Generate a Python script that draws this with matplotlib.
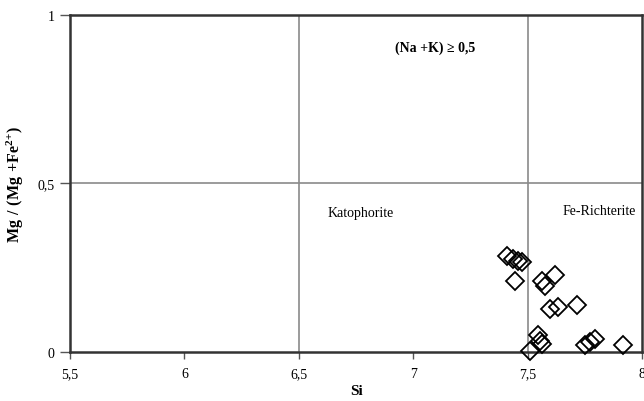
import matplotlib
matplotlib.use("Agg")
import matplotlib.pyplot as plt

# analyses: Si (apfu) vs Mg/(Mg+Fe2+)
si = [7.408, 7.437, 7.459, 7.476, 7.446, 7.561, 7.576, 7.620,
      7.598, 7.634, 7.714, 7.546, 7.553, 7.561, 7.510,
      7.751, 7.773, 7.795, 7.918]
mg_ratio = [0.286, 0.276, 0.271, 0.266, 0.212, 0.212, 0.197, 0.228,
            0.128, 0.133, 0.138, 0.049, 0.033, 0.024, 0.004,
            0.020, 0.029, 0.039, 0.020]

xticks = [5.5, 6, 6.5, 7, 7.5, 8]
xlabels = ['5,5', '6', '6,5', '7', '7,5', '8']
yticks = [0, 0.5, 1]
ylabels = ['0', '0,5', '1']

plt.rcParams['font.family'] = ['Liberation Serif', 'DejaVu Serif']
plt.rcParams['mathtext.fontset'] = 'custom'
plt.rcParams['mathtext.rm'] = 'Liberation Serif'
plt.rcParams['mathtext.bf'] = 'Liberation Serif:bold'

fig = plt.figure(figsize=(6.44, 4.02), dpi=100)
ax = fig.add_axes([0.1087, 0.1219, 0.8882, 0.8383])

#### linhas de divisao dos campos
ax.axvline(x=6.5, color='#8a8a8a', linewidth=1.2, zorder=1)
ax.axvline(x=7.5, color='#8a8a8a', linewidth=1.2, zorder=1)
ax.axhline(y=0.5, color='#8a8a8a', linewidth=1.2, zorder=1)

ax.plot(si, mg_ratio, 'D', markersize=9, markerfacecolor='none',
        markeredgecolor='k', markeredgewidth=1.3, clip_on=False, zorder=3)

ax.axis([5.5, 8, 0, 1])
ax.set_xticks(xticks)
ax.set_xticklabels(xlabels)
ax.set_yticks(yticks)
ax.set_yticklabels(ylabels)
ax.tick_params(axis='x', direction='out', length=5, width=1, color='#555555',
               labelsize=10, pad=6)
ax.tick_params(axis='y', direction='out', length=7, width=1, color='#555555',
               labelsize=10, pad=4)

for side in ['left', 'bottom', 'top', 'right']:
    ax.spines[side].set_color('#333333')
    ax.spines[side].set_linewidth(1.8)

#### Legendas
ax.text(7.095, 0.905, '(Na +K) \u2265 0,5', fontsize=10, fontweight='bold',
        ha='center', va='center')
ax.text(6.77, 0.415, 'Katophorite', fontsize=10, ha='center', va='center')
ax.text(7.815, 0.42, 'Fe-Richterite', fontsize=10, ha='center', va='center')

ax.set_xlabel('Si', fontsize=11, fontweight='bold', labelpad=3)
ax.set_ylabel(r'$\mathbf{Mg\ /\ (Mg\ {+}Fe^{2{+}})}$', fontsize=11.5,
              labelpad=8)

plt.savefig('out.png', dpi=100)
